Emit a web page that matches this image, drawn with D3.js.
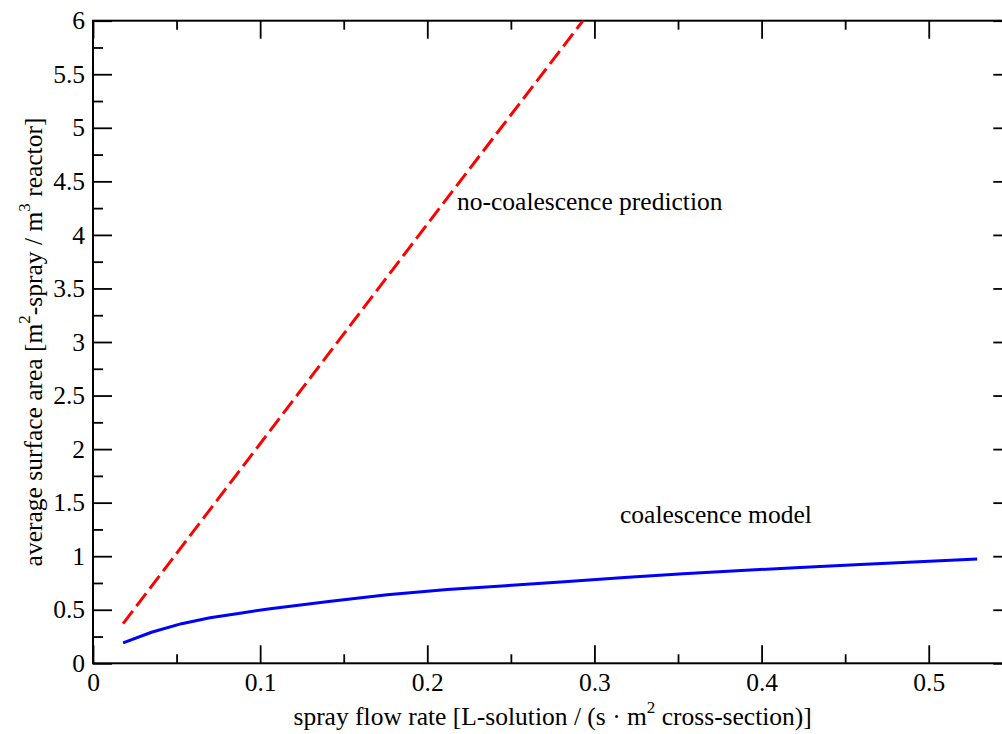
<!DOCTYPE html>
<html>
<head>
<meta charset="utf-8">
<script src="https://cdn.jsdelivr.net/npm/d3@7"></script>
<style>
  html, body { margin: 0; padding: 0; background: #fff; }
  svg { display: block; }
</style>
</head>
<body>
<svg id="chart" width="1002" height="734"></svg>
<script>
// Spray flow rate [L-solution / (s · m² cross-section)]
const flowRate = [0.018, 0.035, 0.053, 0.070, 0.088, 0.106, 0.141, 0.176, 0.212,
                  0.247, 0.282, 0.318, 0.353, 0.388, 0.423, 0.459, 0.494, 0.529];
// Average surface area with coalescence [m²-spray / m³ reactor]
const coalescenceModel = [0.19, 0.29, 0.37, 0.425, 0.468, 0.51, 0.578, 0.64, 0.688,
                          0.725, 0.762, 0.80, 0.836, 0.866, 0.895, 0.922, 0.948, 0.974];
// Prediction without coalescence (straight line, runs past the top of the frame)
const noCoalFlow = [0.018, 0.1, 0.2, 0.3];
const noCoalArea = [0.37, 2.05, 4.1, 6.14];

const xMajorTicks = [0, 0.1, 0.2, 0.3, 0.4, 0.5];
const xMinorTicks = [0.05, 0.15, 0.25, 0.35, 0.45, 0.55];
const yMajorTicks = [0, 0.5, 1, 1.5, 2, 2.5, 3, 3.5, 4, 4.5, 5, 5.5, 6];
const yMinorTicks = [0.25, 0.75, 1.25, 1.75, 2.25, 2.75, 3.25, 3.75, 4.25, 4.75, 5.25, 5.75];

const plotLeft = 93, plotRight = 1012.3, plotTop = 20.7, plotBottom = 663.3;
const svg = d3.select("#chart");

const x = d3.scaleLinear().domain([0, 0.55]).range([plotLeft, plotRight]);
const y = d3.scaleLinear().domain([0, 6]).range([plotBottom, plotTop]);

const fmt = v => String(+v.toFixed(2));
const serif = "Liberation Serif";
const fontSize = "25.5px";
const supSize = "17px";

// Axes: all ticks point into the frame; labels only on bottom and left
function styleAxis(g) {
  g.select(".domain").remove();
  g.selectAll(".tick line").attr("stroke", "#000").attr("stroke-width", 1.8);
  g.selectAll(".tick text").attr("fill", "#000")
    .style("font-family", serif).style("font-size", fontSize);
}

// bottom
svg.append("g").attr("transform", `translate(0,${plotBottom})`)
  .call(d3.axisBottom(x).tickValues(xMajorTicks).tickSize(-18).tickPadding(10).tickFormat(fmt))
  .call(styleAxis);
svg.append("g").attr("transform", `translate(0,${plotBottom})`)
  .call(d3.axisBottom(x).tickValues(xMinorTicks).tickSize(-9).tickFormat(""))
  .call(styleAxis);
// top
svg.append("g").attr("transform", `translate(0,${plotTop})`)
  .call(d3.axisTop(x).tickValues(xMajorTicks).tickSize(-18).tickFormat(""))
  .call(styleAxis);
svg.append("g").attr("transform", `translate(0,${plotTop})`)
  .call(d3.axisTop(x).tickValues(xMinorTicks).tickSize(-9).tickFormat(""))
  .call(styleAxis);
// left
svg.append("g").attr("transform", `translate(${plotLeft},0)`)
  .call(d3.axisLeft(y).tickValues(yMajorTicks).tickSize(-19).tickPadding(8).tickFormat(fmt))
  .call(styleAxis);
svg.append("g").attr("transform", `translate(${plotLeft},0)`)
  .call(d3.axisLeft(y).tickValues(yMinorTicks).tickSize(-10).tickFormat(""))
  .call(styleAxis);
// right
svg.append("g").attr("transform", `translate(${plotRight},0)`)
  .call(d3.axisRight(y).tickValues(yMajorTicks).tickSize(-19).tickFormat(""))
  .call(styleAxis);
svg.append("g").attr("transform", `translate(${plotRight},0)`)
  .call(d3.axisRight(y).tickValues(yMinorTicks).tickSize(-10).tickFormat(""))
  .call(styleAxis);

// frame
svg.append("rect")
  .attr("x", plotLeft).attr("y", plotTop)
  .attr("width", plotRight - plotLeft).attr("height", plotBottom - plotTop)
  .attr("fill", "none").attr("stroke", "#000").attr("stroke-width", 2);

// plot clip
svg.append("clipPath").attr("id", "plotClip")
  .append("rect").attr("x", plotLeft).attr("y", plotTop)
  .attr("width", plotRight - plotLeft).attr("height", plotBottom - plotTop);

const line = d3.line().x(d => x(d[0])).y(d => y(d[1]));

svg.append("path")
  .datum(d3.zip(noCoalFlow, noCoalArea))
  .attr("clip-path", "url(#plotClip)")
  .attr("d", line)
  .attr("fill", "none").attr("stroke", "#ff0000")
  .attr("stroke-width", 3).attr("stroke-dasharray", "16,6");

svg.append("path")
  .datum(d3.zip(flowRate, coalescenceModel))
  .attr("clip-path", "url(#plotClip)")
  .attr("d", line)
  .attr("fill", "none").attr("stroke", "#0000ff")
  .attr("stroke-width", 3).attr("stroke-linejoin", "round");

function label(sel) {
  return sel.style("font-family", serif).style("font-size", fontSize).attr("fill", "#000");
}

// series labels
label(svg.append("text").attr("x", 457).attr("y", 210)).text("no-coalescence prediction");
label(svg.append("text").attr("x", 620).attr("y", 523)).text("coalescence model");

// axis titles
const xt = label(svg.append("text")
  .attr("x", (plotLeft + plotRight) / 2).attr("y", 725)
  .attr("text-anchor", "middle"));
xt.append("tspan").text("spray flow rate [L-solution / (s · m");
xt.append("tspan").attr("dy", -12).style("font-size", supSize).text("2");
xt.append("tspan").attr("dy", 12).text(" cross-section)]");

const yt = label(svg.append("text")
  .attr("transform", `translate(42,${(plotTop + plotBottom) / 2}) rotate(-90)`)
  .attr("text-anchor", "middle"));
yt.append("tspan").text("average surface area [m");
yt.append("tspan").attr("dy", -12).style("font-size", supSize).text("2");
yt.append("tspan").attr("dy", 12).text("-spray / m");
yt.append("tspan").attr("dy", -12).style("font-size", supSize).text("3");
yt.append("tspan").attr("dy", 12).text(" reactor]");
</script>
</body>
</html>
